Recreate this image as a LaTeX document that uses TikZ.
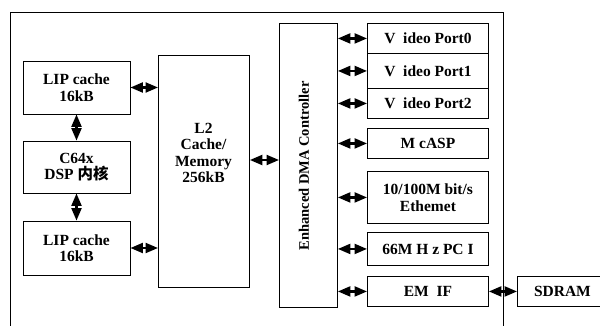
\documentclass[tikz,border=0pt]{standalone}
\usepackage{fontspec}
\setmainfont{Liberation Serif}
\newfontfamily\cjk{Noto Sans CJK SC}
\usetikzlibrary{arrows.meta}
\tikzset{
  txt/.style={font=\fontsize{15.5}{16.5}\selectfont\bfseries},
  blk/.style={draw, line width=0.9pt, inner sep=0pt, align=center, txt},
  dbl/.style={{Triangle[length=12.5pt,width=10pt]}-{Triangle[length=12.5pt,width=10pt]}, line width=2.2pt},
  frame/.style={line width=0.9pt}
}
\begin{document}
\begin{tikzpicture}[x=1pt,y=-1pt]
\useasboundingbox (0,0) rectangle (600,326);
% outer frame (open at the bottom)
\draw[frame] (10,326) -- (10,12) -- (503,12) -- (503,326);
% left column
\node[blk, minimum width=107pt, minimum height=53pt] (lip1) at (76.5,87.5) {LIP cache\\16kB};
\node[blk, minimum width=107pt, minimum height=52pt] (core) at (76.5,167) {C64x\\DSP {\cjk 内核}};
\node[blk, minimum width=107pt, minimum height=54pt] (lip2) at (76.5,248) {LIP cache\\16kB};
% L2
\node[blk, minimum width=91pt, minimum height=232pt, anchor=north west] (l2) at (158,55) {};
\node[txt, align=center] (l2t) at (203.5,153) {L2\\Cache/\\Memory\\256kB};
% DMA
\node[blk, minimum width=58pt, minimum height=284pt, anchor=north west] (dma) at (279,23) {};
\node[font=\fontsize{14.5}{15}\selectfont\bfseries, rotate=90] (dmat) at (304,166) {Enhanced DMA Controller};
% right column
\node[blk, minimum width=121pt, minimum height=30pt, anchor=north west] (vp0) at (367,23) {V\ \ ideo Port0};
\node[blk, minimum width=121pt, minimum height=35pt, anchor=north west] (vp1) at (367,53) {V\ \ ideo Port1};
\node[blk, minimum width=121pt, minimum height=30pt, anchor=north west] (vp2) at (367,88) {V\ \ ideo Port2};
\node[blk, minimum width=121pt, minimum height=30pt, anchor=north west] (mcasp) at (367,128) {M cASP};
\node[blk, minimum width=121pt, minimum height=52pt, anchor=north west] (eth) at (367,171) {10/100M bit/s\\Ethemet};
\node[blk, minimum width=121pt, minimum height=33pt, anchor=north west] (pci) at (367,232) {66M H z PC I};
\node[blk, minimum width=121pt, minimum height=30pt, anchor=north west] (emif) at (367,276) {EM\ \ IF};
\node[blk, minimum width=90pt, minimum height=30pt, anchor=north west] (sdram) at (517,276) {SDRAM};
% connectors
\draw[dbl] (lip1.south) -- (core.north);
\draw[dbl] (core.south) -- (lip2.north);
\draw[dbl] (lip1.east) -- (lip1.east -| l2.west);
\draw[dbl] (lip2.east) -- (lip2.east -| l2.west);
\draw[dbl] (l2.east |- 0,160) coordinate (a) -- (a -| dma.west);
\foreach \n in {vp0,vp1,vp2,mcasp,eth,pci,emif}{
  \draw[dbl] (\n.west -| dma.east) -- (\n.west);
}
\draw[dbl] (emif.east) -- (sdram.west);
\end{tikzpicture}
\end{document}
